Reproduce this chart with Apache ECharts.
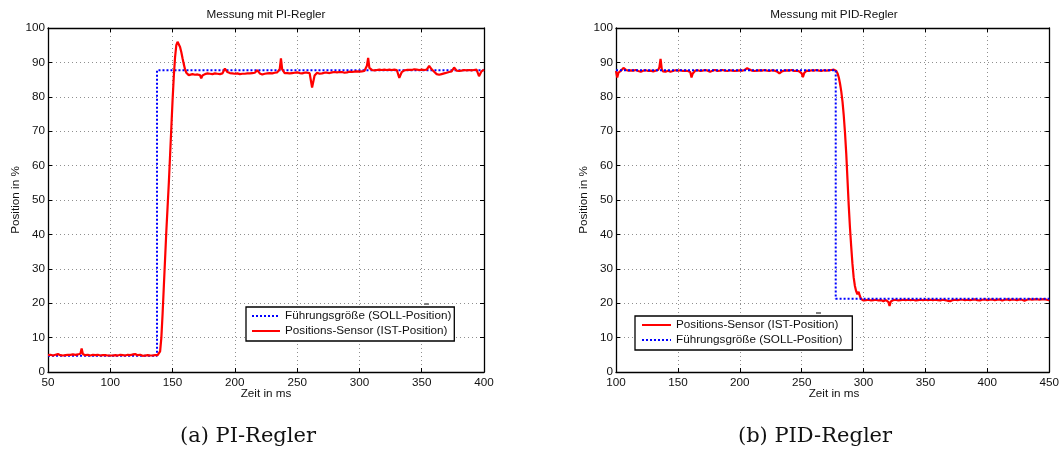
<!DOCTYPE html>
<html>
<head>
<meta charset="utf-8">
<script src="https://cdn.jsdelivr.net/npm/echarts@6/dist/echarts.min.js"></script>
<style>html,body{margin:0;padding:0;background:#fff}#c{width:1062px;height:452px}</style>
</head>
<body>
<div id="c"></div>
<script>
// ---------- data ----------
const titles = ['Messung mit PI-Regler', 'Messung mit PID-Regler'];
const captions = ['(a) PI-Regler', '(b) PID-Regler'];
const nameSoll = 'Führungsgröße (SOLL-Position)';
const nameIst = 'Positions-Sensor (IST-Position)';
const xName = 'Zeit in ms';
const yName = 'Position in %';

// PI-Regler: SOLL
const piSollT = [50, 137.5, 137.5, 400];
const piSollV = [4.7, 4.7, 87.7, 87.7];
// PI-Regler: IST
const piIstT = [50,52,54,56,58,60,62,64,66,68,70,72,74,76,77,78,80,82,84,86,88,90,92,94,96,98,100,101,102,104,106,108,110,112,114,116,118,120,122,124,126,128,130,132,134,136,138,139,
140,141,142,143,144,145,146,147,148,149,150,151,152,153,154,155,156,157,158,159,160,161,162,163,164,166,168,170,172,173,174,176,178,180,182,184,186,188,190,191,192,194,196,198,200,202,204,206,208,210,212,214,216,217,218,220,222,224,226,228,230,232,234,235,236,237,238,240,242,244,246,248,250,252,254,256,258,260,261,262,264,266,268,270,272,274,276,278,280,282,284,286,288,290,292,294,296,298,300,302,304,305,306,307,308,310,312,314,316,318,320,322,324,326,328,330,331,332,334,336,338,340,342,344,346,348,350,352,354,355,356,358,360,362,364,366,368,370,372,374,375,376,378,380,382,384,386,388,390,392,394,395,396,398,400];
const piIstV = [4.9,5.0,4.8,5.0,5.2,4.9,4.8,4.9,5.0,5.0,5.1,5.0,5.1,5.3,6.8,5.2,4.9,5.0,4.8,5.0,4.9,5.0,4.8,4.9,4.9,4.8,4.8,4.3,4.8,4.9,4.8,5.0,4.9,4.8,5.0,4.9,5.1,5.2,4.9,5.0,4.7,4.8,4.9,4.8,4.8,4.9,4.9,5.0,
6,10,17,25,33,41,48,55,63,71,79,86,91.5,95,96,95.6,94.5,93,91.2,89.5,88,87,86.5,86.3,86.5,86.6,86.4,86.5,86.3,85.4,86.2,86.6,86.8,86.7,86.6,86.8,86.7,86.6,86.8,87.0,88.2,87.2,86.9,86.8,86.7,86.8,86.6,86.7,86.7,86.8,86.8,86.9,87.0,87.4,87.7,86.8,86.5,86.7,86.8,86.9,86.8,87.0,87.1,87.0,88.0,91.2,88.0,86.9,86.9,86.8,86.9,87.0,87.1,86.9,86.8,87.0,87.0,86.9,86.5,82.7,86.2,87.0,86.7,86.8,87.0,87.0,86.9,87.1,87.2,87.1,87.2,87.2,87.0,87.1,87.3,87.2,87.3,87.4,87.3,87.4,87.5,87.6,89.0,91.3,88.4,87.8,87.7,87.8,87.9,87.8,87.9,87.8,87.9,87.8,87.9,87.8,87.6,85.5,87.2,87.7,87.8,87.8,87.8,88.0,87.9,87.8,87.9,87.8,87.9,88.4,89.0,88.0,87.3,86.6,86.4,86.6,86.8,87.0,87.2,87.4,87.5,88.5,87.6,87.5,87.6,87.8,87.7,87.8,87.7,87.8,87.9,87.8,86.0,87.4,87.9,87.8];

// PID-Regler: SOLL
const pidSollT = [100, 277.5, 277.5, 450];
const pidSollV = [87.7, 87.7, 21.3, 21.3];
// PID-Regler: IST
const pidIstT = [100,101,102,104,106,108,110,112,114,116,118,120,122,124,126,128,130,132,134,135,136,137,138,140,142,144,146,148,150,152,154,156,158,160,161,162,164,166,168,170,172,174,176,178,180,182,184,186,188,190,192,194,196,198,200,202,204,206,207,208,210,212,214,216,218,220,222,224,226,228,230,232,234,236,238,240,242,244,246,248,250,251,252,254,256,258,260,262,264,266,268,270,272,274,276,277,
278,279,280,281,282,283,284,285,286,287,288,289,290,291,292,293,294,295,296,297,298,300,302,304,306,308,310,312,314,316,318,320,321,322,324,326,328,330,332,334,336,338,340,342,344,346,348,350,352,354,356,358,360,362,364,366,368,370,372,374,376,378,380,382,384,386,388,390,392,394,396,398,400,402,404,406,408,410,412,414,416,418,420,422,424,426,428,430,432,434,436,438,440,442,444,446,448,450];
const pidIstV = [87.5,85.6,87.0,87.6,88.4,87.8,87.6,87.7,87.6,87.8,87.5,87.3,87.6,87.7,87.5,87.6,87.4,87.6,87.8,88.5,91.0,88.0,87.4,87.3,87.6,87.3,87.5,87.7,87.6,87.7,87.5,87.6,87.5,87.2,85.6,86.8,87.6,87.7,87.5,87.6,87.8,87.6,87.3,87.6,87.8,87.5,87.6,87.8,87.6,87.5,87.7,87.6,87.5,87.6,87.7,87.6,87.8,88.3,88.7,87.9,87.6,87.5,87.6,87.7,87.6,87.8,87.6,87.5,87.7,87.6,87.4,86.8,87.4,87.6,87.7,87.6,87.8,87.5,87.6,87.4,86.8,85.7,86.9,87.6,87.5,87.7,87.6,87.8,87.6,87.5,87.7,87.6,87.7,87.8,87.9,87.8,
87.5,86.8,85.6,83.8,81.5,78.5,74.5,69.5,63.5,56,48.5,42,36.5,31.5,27.5,25,23.5,22.6,23.3,22.1,21.2,20.8,20.9,21.0,20.8,20.9,21.0,20.8,20.9,20.6,20.9,20.4,19.2,20.5,20.9,21.0,20.8,20.9,21.0,20.9,21.0,20.9,21.0,20.8,20.9,21.0,20.9,21.0,20.9,21.0,20.9,21.0,20.9,20.8,21.0,20.9,20.7,20.6,20.9,21.0,20.9,21.0,21.0,20.9,21.0,20.9,21.0,21.1,20.9,20.8,21.0,21.1,20.9,21.0,21.1,20.9,21.0,21.1,20.8,21.0,21.1,20.9,21.1,21.0,20.9,21.1,21.0,20.7,21.0,21.2,21.0,21.1,21.2,21.0,21.1,21.2,21.0,20.9];

const xRanges = [[50, 400], [100, 450]];

// ---------- chart ----------
const pairs = (t, v) => t.map((x, i) => [x, v[i]]);
const FONT = 'Liberation Sans';
const grids = [
  {left: 48, top: 28, width: 436, height: 344},
  {left: 616, top: 28, width: 436, height: 344}
];
const xAxes = [], yAxes = [];
grids.forEach((g, i) => {
  xAxes.push({
    type: 'value', gridIndex: i, min: xRanges[i][0], max: xRanges[i][1], interval: 50,
    axisLine: {onZero: false, lineStyle: {color: '#000', width: 1.3}},
    axisTick: {inside: true, length: 4, lineStyle: {color: '#000'}},
    axisLabel: {color: '#111', fontFamily: FONT, fontSize: 11.7, margin: 5},
    splitLine: {show: true, lineStyle: {color: '#8f8f8f', type: [1, 3], width: 1}}
  });
  xAxes.push({
    type: 'value', gridIndex: i, position: 'top', min: xRanges[i][0], max: xRanges[i][1], interval: 50,
    axisLine: {onZero: false, lineStyle: {color: '#000', width: 1.3}},
    axisTick: {inside: true, length: 4, lineStyle: {color: '#000'}},
    axisLabel: {show: false}, splitLine: {show: false}
  });
  yAxes.push({
    type: 'value', gridIndex: i, min: 0, max: 100, interval: 10,
    axisLine: {show: true, onZero: false, lineStyle: {color: '#000', width: 1.3}},
    axisTick: {show: true, inside: true, length: 4, lineStyle: {color: '#000'}},
    axisLabel: {color: '#111', fontFamily: FONT, fontSize: 11.7, margin: 3},
    splitLine: {show: true, lineStyle: {color: '#8f8f8f', type: [1, 3], width: 1}}
  });
  yAxes.push({
    type: 'value', gridIndex: i, position: 'right', min: 0, max: 100, interval: 10,
    axisLine: {show: true, onZero: false, lineStyle: {color: '#000', width: 1.3}},
    axisTick: {show: true, inside: true, length: 4, lineStyle: {color: '#000'}},
    axisLabel: {show: false}, splitLine: {show: false}
  });
});

const sollStyle = {color: '#0000ff', width: 2, type: [2, 2]};
const istStyle = {color: '#ff0000', width: 2.2};
const mk = (name, gi, data, style, z) => ({
  name, type: 'line', xAxisIndex: gi * 2, yAxisIndex: gi * 2, data,
  symbol: 'none', showSymbol: false, lineStyle: style, itemStyle: {color: style.color},
  z, silent: true, animation: false
});
const series = [
  mk(nameSoll, 0, pairs(piSollT, piSollV), sollStyle, 2),
  mk(nameIst, 0, pairs(piIstT, piIstV), istStyle, 3),
  mk(nameIst, 1, pairs(pidIstT, pidIstV), istStyle, 2),
  mk(nameSoll, 1, pairs(pidSollT, pidSollV), sollStyle, 3)
];

const legendBase = {
  orient: 'vertical', backgroundColor: '#fff', borderColor: '#000', borderWidth: 1.3,
  itemHeight: 12, itemGap: 3, selectedMode: false,
  itemStyle: {opacity: 0},
  textStyle: {color: '#111', fontFamily: FONT, fontSize: 11.7}
};
const legends = [
  Object.assign({}, legendBase, {left: 246, top: 307, itemWidth: 28, padding: [3, 3, 4, 5], data: [nameSoll, nameIst]}),
  Object.assign({}, legendBase, {left: 635, top: 316, itemWidth: 29, padding: [3, 10, 4, 6], data: [nameIst, nameSoll]})
];

const txt = (x, y, text, font, rot) => ({
  type: 'text', x, y, rotation: rot || 0, silent: true,
  style: {text, fill: '#111', align: 'center', verticalAlign: 'middle', font}
});
const graphic = [];
grids.forEach((g, i) => {
  const cx = g.left + g.width / 2;
  graphic.push(txt(cx, 15, titles[i], '11.7px "Liberation Sans"'));
  graphic.push(txt(cx, 394, xName, '11.7px "Liberation Sans"'));
  graphic.push(txt(g.left - 32, g.top + g.height / 2, yName, '11.7px "Liberation Sans"', Math.PI / 2));
});
graphic.push(txt(248, 437, captions[0], '21px "DejaVu Serif"'));
graphic.push(txt(815, 437, captions[1], '21px "DejaVu Serif"'));
graphic.push({type: 'line', silent: true, shape: {x1: 424, y1: 304, x2: 429, y2: 304}, style: {stroke: '#000', lineWidth: 1}});
graphic.push({type: 'line', silent: true, shape: {x1: 816, y1: 313, x2: 821, y2: 313}, style: {stroke: '#000', lineWidth: 1}});

const chart = echarts.init(document.getElementById('c'), null, {renderer: 'canvas'});
chart.setOption({
  animation: false,
  backgroundColor: '#fff',
  textStyle: {fontFamily: FONT},
  grid: grids,
  xAxis: xAxes,
  yAxis: yAxes,
  legend: legends,
  series,
  graphic
});
</script>
</body>
</html>
